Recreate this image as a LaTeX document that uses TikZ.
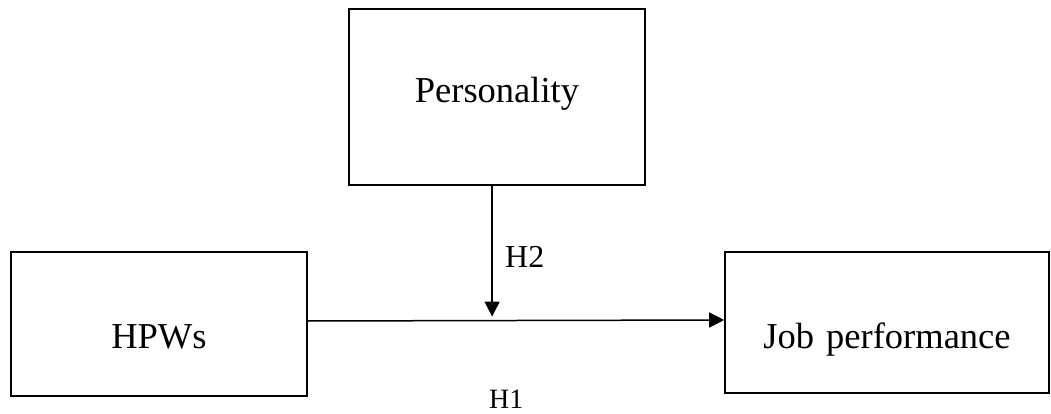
\documentclass[tikz,border=0pt]{standalone}
\usepackage{fontspec}
\setmainfont{Liberation Serif}
\usetikzlibrary{arrows.meta,calc}
\begin{document}
\begin{tikzpicture}[x=1pt,y=-1pt,
  box/.style={draw,line width=1.6pt,inner sep=0pt,anchor=base,align=center,
    font=\fontsize{36.5}{40}\selectfont},
  conn/.style={line width=1.5pt,-{Triangle[length=15pt,width=15pt]}},
  hlabel/.style={anchor=base west,inner sep=0pt}]
\useasboundingbox (0,0) rectangle (1051,414);
\node[box,text width=296pt,text height=94pt,text depth=82pt] (pers) at (497,103) {Personality};
\node[box,text width=296pt,text height=96pt,text depth=48pt] (hpw) at (159,348) {HPWs};
\node[box,text width=324pt,text height=96pt,text depth=45pt] (job) at (887,348) {Job performance};
\draw[conn] ([yshift=3pt]hpw.east) -- coordinate[pos=0.4426] (m) ([yshift=2.5pt]job.west);
\draw[conn,shorten >=4pt] (pers.south -| m) -- (m);
\node[hlabel,font=\fontsize{32}{36}\selectfont] (h2) at (505,267) {H2};
\node[hlabel,font=\fontsize{28}{32}\selectfont] (h1) at (489,408) {H1};
\end{tikzpicture}
\end{document}
